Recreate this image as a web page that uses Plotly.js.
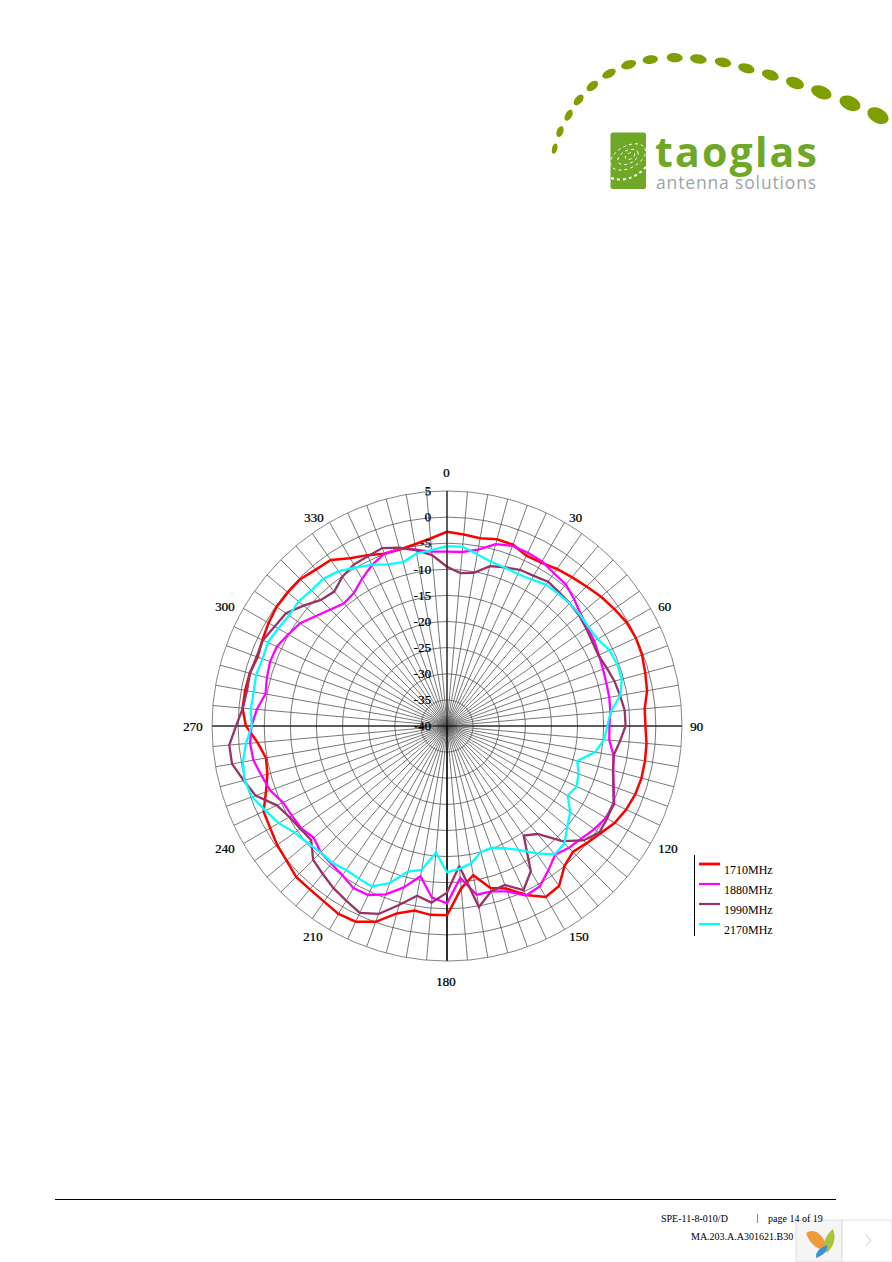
<!DOCTYPE html>
<html><head><meta charset="utf-8">
<script src="https://cdn.plot.ly/plotly-3.0.1.min.js"></script>
<style>html,body{margin:0;padding:0;background:#fff}#c{width:892px;height:1262px}</style>
</head><body><div id="c"></div>
<script>
const thetaDeg=[0,5,10,15,20,25,30,35,40,45,50,55,60,65,70,75,80,85,90,95,100,105,110,115,120,125,130,135,140,145,150,155,160,165,170,175,180,185,190,195,200,205,210,215,220,225,230,235,240,245,250,255,260,265,270,275,280,285,290,295,300,305,310,315,320,325,330,335,340,345,350,355];
const s1710=[-2.8,-3.2,-3.5,-3.0,-3.05,-4.0,-3.9,-3.3,-2.8,-2.2,-1.5,-0.9,-0.3,-0.1,-0.25,-0.7,-1.1,-2.0,-2.0,-1.65,-1.5,-1.45,-1.65,-2.15,-2.9,-4.15,-5.1,-5.9,-5.0,-2.6,-2.2,-4.3,-6.9,-7.9,-11,-8.8,-3.75,-3.7,-4.1,-2.85,-0.1,1.35,1.55,1.05,0.85,0.85,0.1,-0.3,-0.9,-1.25,-3.1,-4.4,-4.8,-3.6,-1.5,-0.7,-0.75,-0.9,-1.4,-1.0,-0.55,-0.2,-0.2,-0.25,-0.9,-1.2,-2.9,-3.9,-4.9,-5.0,-4.65,-3.95];
const s1880=[-6.6,-6.55,-5.7,-3.95,-3.3,-3.4,-3.6,-4.3,-4.6,-5.6,-6.6,-7.1,-7.45,-7.9,-8.2,-8.4,-8.45,-8.6,-8.9,-8.8,-7.6,-7.05,-6.05,-4.65,-4.85,-5.55,-6.45,-7.0,-7.8,-6.2,-4.5,-4.2,-6.3,-7.2,-7.2,-10.8,-6.05,-7.0,-10.8,-8.0,-5.7,-4.3,-4.15,-5.1,-5.55,-5.8,-6.7,-5.9,-5.7,-5.35,-3.95,-3.25,-2.35,-2.15,-2.55,-3.45,-4.7,-4.3,-3.95,-4.05,-4.9,-5.7,-7.25,-8.45,-9.35,-8.9,-7.45,-6.0,-4.9,-4.85,-5.7,-6.5];
const s1990=[-9.5,-10.6,-10.2,-8.3,-7.65,-7.0,-6.8,-6.25,-6.6,-6.75,-7.0,-7.45,-7.85,-8.0,-7.45,-6.8,-6.35,-5.85,-5.8,-6.75,-7.6,-7.1,-6.1,-4.8,-4.6,-4.4,-5.9,-8.8,-13.0,-14.4,-7.9,-5.35,-7.6,-7.25,-4.8,-13.1,-8.1,-6.05,-7.0,-4.5,-1.7,-0.5,-1.4,-2.1,-3.0,-3.75,-6.05,-5.7,-5.15,-4.05,-1.0,0.3,1.8,1.85,0.4,-0.75,-1.1,-0.95,-1.2,-1.1,-1.9,-2.35,-4.15,-5.85,-6.4,-5.1,-4.3,-4.15,-3.75,-4.65,-5.8,-7.15];
const s2170=[-5.55,-5.55,-6.6,-7.45,-7.7,-7.9,-7.6,-6.95,-6.9,-6.75,-6.8,-6.95,-6.7,-5.65,-5.35,-5.35,-6.3,-8.5,-9.3,-9.8,-11.2,-14.15,-13.2,-12.6,-13.3,-11.2,-9.95,-8.2,-7.9,-10.2,-12.6,-14.2,-15.2,-15.0,-13.3,-12.55,-12.0,-15.7,-12.0,-11.15,-8.0,-6.1,-6.25,-6.35,-5.8,-5.8,-5.15,-4.4,-2.8,-1.65,-0.3,0.15,-0.3,-1.35,-2.6,-2.3,-2.4,-2.15,-2.4,-2.15,-2.65,-3.1,-2.9,-3.25,-3.2,-3.8,-5.0,-5.9,-7.05,-7.5,-6.45,-6.2];
const seriesNames=['1710MHz','1880MHz','1990MHz','2170MHz'];
const seriesColors=['#ff0000','#ff00ff','#993366','#00ffff'];
const seriesWidths=[2.5,2.3,2.3,2.3];
const seriesValues=[s1710,s1880,s1990,s2170];
const angleLabels=[0,30,60,90,120,150,180,210,240,270,300,330];
const angleLabelCentres=[[446,472.5],[575.5,517],[664,606],[696.5,726],[667.5,848],[579,936.5],[446,981.5],[313,936.5],[225,848],[193,726],[225,606],[313.5,517]];
const radialTicks=[-40,-35,-30,-25,-20,-15,-10,-5,0,5];

const W=892,H=1262;
const px=x=>x/W, py=y=>1-y/H;
const cx=447,cy=726,R=235;
const dbl='0.5px 0.3px 0 rgba(0,0,0,0.6)';

function ann(text,x,y,o){return Object.assign({text,x:px(x),y:py(y),xref:'paper',yref:'paper',xanchor:'left',yanchor:'middle',showarrow:false,borderpad:0,
  font:{family:'Liberation Serif',size:10,color:'#000'}},o||{});}
function rotEllipse(c,d,a,b,deg){
  const t=deg*Math.PI/180,co=Math.cos(t),si=Math.sin(t),k=0.5523;
  const P=(u,v)=>{const X=c+u*co-v*si,Y=d+u*si+v*co;return px(X).toFixed(5)+','+py(Y).toFixed(5);};
  return 'M'+P(a,0)+'C'+P(a,k*b)+' '+P(k*a,b)+' '+P(0,b)+'C'+P(-k*a,b)+' '+P(-a,k*b)+' '+P(-a,0)+
         'C'+P(-a,-k*b)+' '+P(-k*a,-b)+' '+P(0,-b)+'C'+P(k*a,-b)+' '+P(a,-k*b)+' '+P(a,0)+'Z';
}
function pathPx(cmds){return cmds.map(c=>c[0]+c.slice(1).map(p=>px(p[0]).toFixed(5)+','+py(p[1]).toFixed(5)).join(' ')).join('')+'';}
const shp=(path,fill,line)=>({type:'path',xref:'paper',yref:'paper',path,fillcolor:fill||'rgba(0,0,0,0)',line:line||{width:0},layer:'above'});
const rect=(x0,y0,x1,y1,fill,line)=>({type:'rect',xref:'paper',yref:'paper',x0:px(x0),x1:px(x1),y0:py(y0),y1:py(y1),fillcolor:fill,line:line||{width:0},layer:'above'});
const seg=(x0,y0,x1,y1,color,w)=>({type:'line',xref:'paper',yref:'paper',x0:px(x0),x1:px(x1),y0:py(y0),y1:py(y1),line:{color,width:w},layer:'above'});

const logoDots=[[44,326,16,8,-75],[60,275,17,10,-70],[86,226,18,10,-60],[116,180,19,11,-50],[157,138,20,12,-40],[207,101,22,12,-28],[266,74,23,13,-18],[331,59,23,13,-6],[404,53,24,14,3],[475,57,25,14,8],[549,67,25,14,12],[619,85,25,14,16],[691,105,26,15,20],[765,129,28,17,20],[844,157,32,19,22],[930,190,33,21,24],[1014,227,34,22,28]];
const shapes=[];
logoDots.forEach(d=>shapes.push(shp(rotEllipse(540+d[0]/3,40+d[1]/3,d[2]/3,d[3]/3,d[4]),'#7f9f00')));
const g='#6fa826';
shapes.push(shp(pathPx([['M',[613,132.5]],['L',[643.5,132.5]],['Q',[646,132.5],[646,135]],['L',[646,186.5]],['Q',[646,189],[643.5,189]],['L',[613,189]],['Q',[610.5,189],[610.5,186.5]],['L',[610.5,135]],['Q',[610.5,132.5],[613,132.5]]])+'Z',g));
const wd={color:'#fff',width:1,dash:'dot'};
shapes.push(shp(rotEllipse(628,157,19,11,-28),'rgba(0,0,0,0)',wd));
shapes.push(shp(rotEllipse(628,157,11,6.5,-28),'rgba(0,0,0,0)',wd));
shapes.push(shp(rotEllipse(630,156,5,3,-28),'rgba(0,0,0,0)',wd));
shapes.push(shp(pathPx([['M',[611,178]],['Q',[630,184],[646,167]]]),'rgba(0,0,0,0)',{color:'#fff',width:2,dash:'dot'}));

shapes.push(seg(694.5,855,694.5,936,'#000',1));
const legendY=[864,884,904,924];
seriesNames.forEach((n,i)=>shapes.push(seg(699,legendY[i],720,legendY[i],seriesColors[i],i==0?2.8:2.2)));
shapes.push(seg(55,1199.5,836,1199.5,'#000',1));
shapes.push(seg(757.5,1214,757.5,1223,'#8a9a20',1));
shapes.push(rect(796,1220,842,1262,'#f5f5f5',{color:'#dddddd',width:1}));
shapes.push(rect(842,1220,892,1262,'#ffffff',{color:'#dddddd',width:1}));
shapes.push(shp(pathPx([['M',[865.5,1235]],['L',[871,1240.5]],['L',[865.5,1246]]]),'rgba(0,0,0,0)',{color:'#c4c4c4',width:1}));
shapes.push(shp(pathPx([['M',[806,1233]],['Q',[816,1227],[824,1240]],['Q',[829,1247],[827,1250]],['Q',[812,1250],[806,1233]]])+'Z','#f29a3a'));
shapes.push(shp(pathPx([['M',[833,1229]],['Q',[838,1242],[827,1253]],['Q',[820,1240],[833,1229]]])+'Z','#a9c63a'));
shapes.push(shp(pathPx([['M',[827,1245]],['Q',[829,1253],[816,1258]],['Q',[815,1249],[827,1245]]])+'Z','#3f8fd6'));

const annotations=[];
angleLabels.forEach((a,i)=>annotations.push(ann(String(a),angleLabelCentres[i][0],angleLabelCentres[i][1],{xanchor:'center',font:{family:'Liberation Serif',size:13,color:'#000',shadow:dbl}})));
seriesNames.forEach((n,i)=>annotations.push(ann(n,723,legendY[i]+6,{font:{family:'Liberation Serif',size:12,color:'#000'}})));
annotations.push(ann('<span style="letter-spacing:2.2px">taoglas</span>',654,151,{font:{family:'Open Sans',size:41,color:g,weight:700}}));
annotations.push(ann('<span style="letter-spacing:0.85px">antenna solutions</span>',655,182,{font:{family:'Open Sans',size:17.5,color:'#9aa6a8'}}));
annotations.push(ann('SPE-11-8-010/D',660,1218));
annotations.push(ann('page 14 of 19',767,1218));
annotations.push(ann('MA.203.A.A301621.B30',690,1236));

const close=a=>a.concat([a[0]]);
const traces=[{type:'scatterpolar',mode:'lines',r:[5,-40,5,-40,5],theta:[90,90,180,180,270],line:{color:'#000',width:1},showlegend:false,hoverinfo:'skip'}];
seriesNames.forEach((n,i)=>traces.push({type:'scatterpolar',mode:'lines',name:n,r:close(seriesValues[i]),theta:close(thetaDeg),line:{color:seriesColors[i],width:seriesWidths[i]},showlegend:false}));

const layout={width:W,height:H,margin:{l:0,r:0,t:0,b:0},paper_bgcolor:'#fff',showlegend:false,shapes,annotations,
 polar:{domain:{x:[(cx-R)/W,(cx+R)/W],y:[(H-cy-R)/H,(H-cy+R)/H]},bgcolor:'#fff',
  radialaxis:{range:[-40,5],tickvals:radialTicks,ticktext:radialTicks.map(String),angle:90,side:'counterclockwise',showline:true,linecolor:'#000',linewidth:1,gridcolor:'#555',gridwidth:0.8,ticks:'outside',ticklen:11,tickcolor:'rgba(0,0,0,0)',tickfont:{family:'Liberation Serif',size:13,color:'#000',shadow:dbl},tickangle:90},
  angularaxis:{rotation:90,direction:'clockwise',tickmode:'array',tickvals:thetaDeg,showticklabels:false,gridcolor:'#555',gridwidth:0.8,linecolor:'#666',linewidth:0.8,ticks:''}}};
Plotly.newPlot('c',traces,layout,{displayModeBar:false,staticPlot:true});
</script></body></html>
